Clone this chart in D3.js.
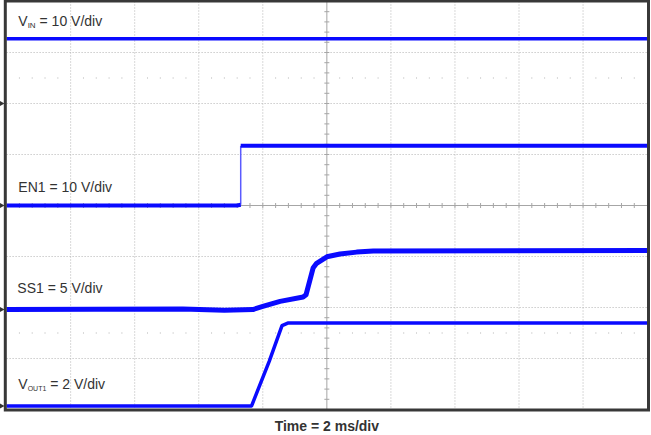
<!DOCTYPE html>
<html>
<head>
	<meta charset="utf-8">
	<title>Soft-start waveforms</title>
	<script src="https://cdn.jsdelivr.net/npm/d3@7"></script>
	<style>
		body { margin: 0; background: #fff; }
		text { font-family: "Liberation Sans", Arial, sans-serif; fill: #333; }
		.grid line { stroke: #b3b3b3; stroke-width: 1; stroke-dasharray: 1,2; }
		.center line { stroke: #a6a6a6; stroke-width: 1; }
		.trace { fill: none; stroke: #0a0aff; stroke-linejoin: round; }
	</style>
</head>
<body>
<script>

// scope settings
var timePerDiv = 2;      // ms/div
var hDivs = 10, vDivs = 8;

var channelNames = ["IN", "EN1", "SS1", "OUT1"];
var voltsPerDiv = [10, 10, 5, 2];

// traces, time in ms, values in volts
var vinTime = [0, 20];
var vinVolts = [12.7, 12.7];

var enTime = [0, 7.2, 7.31, 7.31, 20];
var enVolts = [0, 0, 0.15, 11.7, 11.7];

var ssTime = [0, 5.5, 6.8, 7.69, 8.0, 8.54, 9.26, 9.35, 9.57, 9.68, 10.0, 10.41, 10.93, 11.45, 20];
var ssVolts = [0, 0.05, -0.08, 0, 0.3, 0.8, 1.23, 1.45, 4.07, 4.53, 5.17, 5.44, 5.63, 5.73, 5.78];

var voutTime = [0, 7.65, 8.2, 8.6, 8.78, 20];
var voutVolts = [0, 0, 1.75, 3.15, 3.25, 3.25];

var width = 651, height = 435;
var x0 = 6.6, x1 = 647.1, y0 = 1.5, y1 = 409.5;

var x = d3.scaleLinear()
    .domain([0, hDivs * timePerDiv])
    .range([x0, x1]);

var y = d3.scaleLinear()
    .domain([0, vDivs])
    .range([y1, y0]);

var svg = d3.select("body").append("svg")
    .attr("width", width)
    .attr("height", height);

// dotted graticule
var grid = svg.append("g").attr("class", "grid");

grid.selectAll(".vg")
    .data(d3.range(1, hDivs).filter(function(i) { return i !== hDivs / 2; }))
  .enter().append("line")
    .attr("x1", function(d) { return x(d * timePerDiv); })
    .attr("x2", function(d) { return x(d * timePerDiv); })
    .attr("y1", y0)
    .attr("y2", y1);

grid.selectAll(".hg")
    .data(d3.range(1, vDivs).filter(function(i) { return i !== vDivs / 2; }))
  .enter().append("line")
    .attr("x1", x0)
    .attr("x2", x1)
    .attr("y1", function(d) { return y(d); })
    .attr("y2", function(d) { return y(d); });

// rows of dots at +/- 2.5 div
var dotX = d3.range(1, hDivs * 5).filter(function(i) { return i % 5 !== 0; });
[vDivs / 2 - 2.5, vDivs / 2 + 2.5].forEach(function(row) {
  svg.append("g").selectAll("rect")
      .data(dotX)
    .enter().append("rect")
      .attr("x", function(d) { return x(d * timePerDiv / 5) - 0.5; })
      .attr("y", y(row) - 0.5)
      .attr("width", 1)
      .attr("height", 1)
      .style("fill", "#b3b3b3");
});

// center cross with minor ticks
var center = svg.append("g").attr("class", "center");
var cx = x(hDivs * timePerDiv / 2), cy = y(vDivs / 2);

center.append("line").attr("x1", x0).attr("x2", x1).attr("y1", cy).attr("y2", cy);
center.append("line").attr("x1", cx).attr("x2", cx).attr("y1", y0).attr("y2", y1);

center.selectAll(".ht")
    .data(d3.range(1, hDivs * 5))
  .enter().append("line")
    .attr("x1", function(d) { return x(d * timePerDiv / 5); })
    .attr("x2", function(d) { return x(d * timePerDiv / 5); })
    .attr("y1", cy - 2.5)
    .attr("y2", cy + 2.5);

center.selectAll(".vt")
    .data(d3.range(1, vDivs * 5))
  .enter().append("line")
    .attr("x1", cx - 2.5)
    .attr("x2", cx + 2.5)
    .attr("y1", function(d) { return y(d / 5); })
    .attr("y2", function(d) { return y(d / 5); });

// channel traces
var groundDiv = [6, 4, 1.96, 0.07];
var traceWidth = [3.5, 4, 5, 3.5];
var series = [
  [vinTime, vinVolts],
  [enTime, enVolts],
  [ssTime, ssVolts],
  [voutTime, voutVolts]
];

series.forEach(function(s, k) {
  var pts = s[0].map(function(t, i) { return [t, s[1][i]]; });
  var line = d3.line()
      .x(function(d) { return x(d[0]); })
      .y(function(d) { return y(groundDiv[k] + d[1] / voltsPerDiv[k]); });

  // split at vertical edges: the scope draws fast edges thin
  var runs = [[pts[0]]], edges = [];
  for (var i = 1; i < pts.length; i++) {
    if (pts[i][0] === pts[i - 1][0]) {
      edges.push([pts[i - 1], pts[i]]);
      runs.push([pts[i]]);
    } else {
      runs[runs.length - 1].push(pts[i]);
    }
  }

  edges.forEach(function(e) {
    svg.append("path")
        .datum(e)
        .attr("class", "trace")
        .attr("d", line)
        .style("stroke", "#5a5aff")
        .style("stroke-width", 1.5);
  });

  runs.forEach(function(r) {
    svg.append("path")
        .datum(r)
        .attr("class", "trace")
        .attr("d", line)
        .style("stroke-width", traceWidth[k]);
  });

  // ground marker on the left edge
  svg.append("path")
      .attr("d", "M0,-2.5L4.5,0L0,2.5Z")
      .attr("transform", "translate(0," + y(groundDiv[k]) + ")")
      .style("fill", "#333");
});

// channel labels
var labelY = [26, 192, 293, 388.5];
var labelX = [18.3, 18.3, 17.3, 18.3];

channelNames.forEach(function(name, k) {
  var t = svg.append("text")
      .attr("x", labelX[k])
      .attr("y", labelY[k])
      .style("font-size", "14px");
  if (name === "IN" || name === "OUT1") {
    t.append("tspan").text("V");
    t.append("tspan")
        .attr("dy", 2)
        .style("font-size", name === "IN" ? "8px" : "7px")
        .text(name);
    t.append("tspan")
        .attr("dy", -2)
        .text(" = " + voltsPerDiv[k] + " V/div");
  } else {
    t.text(name + " = " + voltsPerDiv[k] + " V/div");
  }
});

// frame
svg.append("rect")
    .attr("x", 5.3)
    .attr("y", 1)
    .attr("width", 643.2)
    .attr("height", 409)
    .style("fill", "none")
    .style("stroke", "#383838")
    .style("stroke-width", 3);

svg.append("text")
    .attr("x", cx)
    .attr("y", 431)
    .attr("text-anchor", "middle")
    .style("font-size", "14px")
    .style("font-weight", "bold")
    .text("Time = " + timePerDiv + " ms/div");

</script>
</body>
</html>
